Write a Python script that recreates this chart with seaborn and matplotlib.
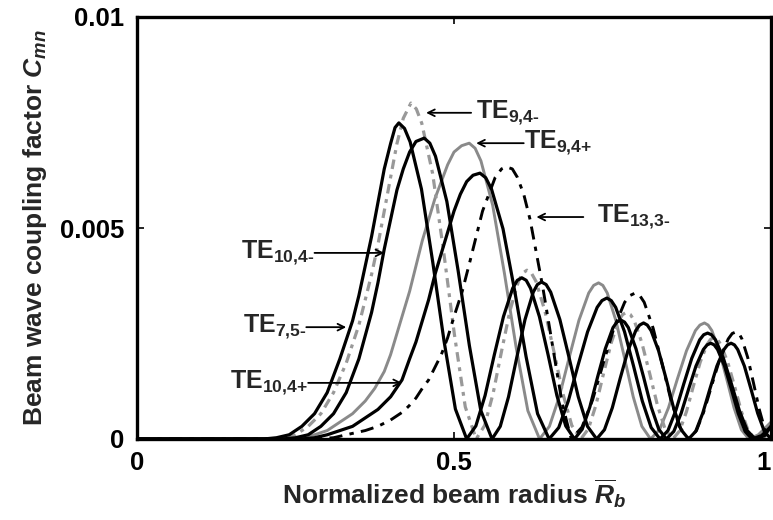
import matplotlib
matplotlib.use("Agg")
import matplotlib.pyplot as plt
import seaborn as sns
import pandas as pd

# ---- data (normalized beam radius, coupling factor) ----
te75m_x = [0, 0.20, 0.22, 0.24, 0.26, 0.28, 0.30, 0.32, 0.34, 0.35, 0.36, 0.37, 0.38, 0.39, 0.40, 0.407, 0.413, 0.4219,
           0.4308, 0.4487, 0.4665, 0.4843, 0.5022, 0.52,
           0.5345, 0.549, 0.5635, 0.578, 0.5925, 0.5998, 0.607, 0.6139, 0.6208, 0.6347, 0.6485, 0.6623, 0.6762, 0.69,
           0.7022, 0.7143, 0.7265, 0.7387, 0.7508, 0.7569, 0.763, 0.769, 0.775, 0.787, 0.799, 0.811, 0.823, 0.835,
           0.8467, 0.8583, 0.87, 0.8817, 0.8933, 0.8992, 0.905, 0.9104, 0.9158, 0.9267, 0.9375, 0.9483, 0.9592, 0.97, 0.985, 1.0]
te75m_y = [0, 0, 0.00003, 0.0001, 0.0003, 0.0006, 0.0011, 0.0019, 0.0028, 0.0034, 0.0041, 0.0048, 0.0056, 0.0064, 0.0070, 0.00738, 0.00749, 0.00736,
           0.00704, 0.00592, 0.00419, 0.00232, 0.00071, 0,
           0.00031, 0.00103, 0.00199, 0.0029, 0.00357, 0.00376, 0.00382, 0.00376, 0.00357, 0.0029, 0.00199, 0.00103, 0.00031, 0,
           0.00023, 0.00076, 0.00147, 0.00214, 0.00264, 0.00277, 0.00282, 0.00277, 0.00264, 0.00214, 0.00147, 0.00076, 0.00023, 0,
           0.00018, 0.00061, 0.00118, 0.00173, 0.00212, 0.00223, 0.00227, 0.00223, 0.00212, 0.00173, 0.00118, 0.00061, 0.00018, 0, 0.00008, 0.0003]

te94m_x = [0, 0.21, 0.23, 0.25, 0.27, 0.29, 0.31, 0.33, 0.35, 0.36, 0.37, 0.38, 0.39, 0.40, 0.41, 0.42, 0.432, 0.4406,
           0.4492, 0.4663, 0.4835, 0.5007, 0.5178, 0.535,
           0.5483, 0.5617, 0.575, 0.5883, 0.6017, 0.6083, 0.615, 0.6221, 0.6292, 0.6433, 0.6575, 0.6717, 0.6858, 0.70,
           0.712, 0.724, 0.736, 0.748, 0.76, 0.766, 0.772, 0.7781, 0.7842, 0.7963, 0.8085, 0.8207, 0.8328, 0.845,
           0.8558, 0.8667, 0.8775, 0.8883, 0.8992, 0.9046, 0.91, 0.9154, 0.9208, 0.9317, 0.9425, 0.9533, 0.9642, 0.975, 0.99, 1.0]
te94m_y = [0, 0, 0.00003, 0.0001, 0.0003, 0.0006, 0.0011, 0.0018, 0.0027, 0.0033, 0.0039, 0.0046, 0.0054, 0.0062, 0.0070, 0.0076, 0.00796, 0.00782,
           0.00748, 0.00629, 0.00446, 0.00247, 0.00076, 0,
           0.00032, 0.00108, 0.00208, 0.00304, 0.00374, 0.00393, 0.0040, 0.00393, 0.00374, 0.00304, 0.00208, 0.00108, 0.00032, 0,
           0.00024, 0.00081, 0.00156, 0.00228, 0.00281, 0.00295, 0.0030, 0.00295, 0.00281, 0.00228, 0.00156, 0.00081, 0.00024, 0,
           0.00019, 0.00065, 0.00125, 0.00182, 0.00224, 0.00236, 0.0024, 0.00236, 0.00224, 0.00182, 0.00125, 0.00065, 0.00019, 0, 0.00006, 0.0002]

te104m_x = [0, 0.23, 0.25, 0.27, 0.29, 0.31, 0.33, 0.35, 0.37, 0.38, 0.39, 0.40, 0.41, 0.42, 0.43, 0.44, 0.453, 0.4619,
            0.4708, 0.4887, 0.5065, 0.5243, 0.5422, 0.56,
            0.573, 0.586, 0.599, 0.612, 0.625, 0.6315, 0.638, 0.6453, 0.6525, 0.667, 0.6815, 0.696, 0.7105, 0.725,
            0.7373, 0.7497, 0.762, 0.7743, 0.7867, 0.7928, 0.799, 0.8049, 0.8108, 0.8227, 0.8345, 0.8463, 0.8582, 0.87,
            0.8812, 0.8923, 0.9035, 0.9147, 0.9258, 0.9314, 0.937, 0.9423, 0.9475, 0.958, 0.9685, 0.979, 0.9895, 1.0]
te104m_y = [0, 0, 0.00003, 0.0001, 0.0003, 0.0006, 0.0011, 0.0019, 0.0030, 0.0037, 0.0045, 0.0052, 0.0059, 0.0064, 0.0068, 0.00705, 0.00713, 0.00701,
            0.0067, 0.00563, 0.00399, 0.00221, 0.00068, 0,
            0.0003, 0.0010, 0.00193, 0.00283, 0.00348, 0.00366, 0.00372, 0.00366, 0.00348, 0.00283, 0.00193, 0.0010, 0.0003, 0,
            0.00022, 0.00074, 0.00143, 0.00209, 0.00257, 0.0027, 0.00275, 0.0027, 0.00257, 0.00209, 0.00143, 0.00074, 0.00022, 0,
            0.00018, 0.00061, 0.00118, 0.00173, 0.00212, 0.00223, 0.00227, 0.00223, 0.00212, 0.00173, 0.00118, 0.00061, 0.00018, 0]

te94p_x = [0, 0.24, 0.26, 0.28, 0.30, 0.32, 0.34, 0.36, 0.375, 0.39, 0.40, 0.41, 0.42, 0.43, 0.44, 0.45, 0.46, 0.47, 0.48, 0.49, 0.50, 0.512, 0.524, 0.5333,
           0.5425, 0.561, 0.5795, 0.598, 0.6165, 0.635,
           0.6505, 0.666, 0.6815, 0.697, 0.7125, 0.7203, 0.728, 0.7348, 0.7417, 0.7553, 0.769, 0.7827, 0.7963, 0.81,
           0.8242, 0.8383, 0.8525, 0.8667, 0.8808, 0.8879, 0.895, 0.9008, 0.9067, 0.9183, 0.93, 0.9417, 0.9533, 0.965, 0.98, 1.0]
te94p_y = [0, 0, 0.00003, 0.0001, 0.0002, 0.0004, 0.0006, 0.0009, 0.0012, 0.0016, 0.0020, 0.0025, 0.0030, 0.0035, 0.0041, 0.0047, 0.0052, 0.0057, 0.0061, 0.0065, 0.0068, 0.00695, 0.00701, 0.00689,
           0.00659, 0.00554, 0.00393, 0.00217, 0.00067, 0,
           0.0003, 0.0010, 0.00192, 0.00281, 0.00346, 0.00364, 0.0037, 0.00364, 0.00346, 0.00281, 0.00192, 0.0010, 0.0003, 0,
           0.00022, 0.00074, 0.00143, 0.00209, 0.00257, 0.0027, 0.00275, 0.0027, 0.00257, 0.00209, 0.00143, 0.00074, 0.00022, 0, 0.0001, 0.0004]

te104p_x = [0, 0.26, 0.28, 0.30, 0.32, 0.34, 0.36, 0.38, 0.40, 0.418, 0.43, 0.44, 0.45, 0.46, 0.47, 0.48, 0.49, 0.50, 0.51, 0.52, 0.53, 0.541, 0.5501,
            0.5592, 0.5773, 0.5955, 0.6137, 0.6318, 0.65,
            0.6652, 0.6803, 0.6955, 0.7107, 0.7258, 0.7334, 0.741, 0.748, 0.755, 0.769, 0.783, 0.797, 0.811, 0.825,
            0.8375, 0.85, 0.8625, 0.875, 0.8875, 0.8938, 0.90, 0.9062, 0.9125, 0.925, 0.9375, 0.95, 0.9625, 0.975, 0.99, 1.0]
te104p_y = [0, 0, 0.00003, 0.0001, 0.0002, 0.0003, 0.0005, 0.0007, 0.0010, 0.0014, 0.0019, 0.0023, 0.0028, 0.0033, 0.0039, 0.0044, 0.0049, 0.0054, 0.0058, 0.0061, 0.00625, 0.0063, 0.00619,
            0.00592, 0.00498, 0.00353, 0.00195, 0.0006, 0,
            0.00027, 0.0009, 0.00174, 0.00254, 0.00312, 0.00328, 0.00334, 0.00328, 0.00312, 0.00254, 0.00174, 0.0009, 0.00027, 0,
            0.0002, 0.00068, 0.00131, 0.00191, 0.00235, 0.00247, 0.00251, 0.00247, 0.00235, 0.00191, 0.00131, 0.00068, 0.0002, 0, 0.00008, 0.0003]

te133m_x = [0, 0.28, 0.31, 0.33, 0.36, 0.38, 0.40, 0.42, 0.43, 0.44, 0.45, 0.46, 0.47, 0.48, 0.49, 0.50, 0.513, 0.525, 0.535, 0.545, 0.555, 0.565, 0.575, 0.582,
            0.592, 0.60, 0.61, 0.62, 0.63, 0.64, 0.65, 0.66, 0.67, 0.678, 0.685,
            0.7018, 0.7187, 0.7355, 0.7523, 0.7692, 0.7776, 0.786, 0.793, 0.80, 0.814, 0.828, 0.842, 0.856, 0.87,
            0.8825, 0.895, 0.9075, 0.92, 0.9325, 0.9388, 0.945, 0.9496, 0.9542, 0.9633, 0.9725, 0.9817, 0.9908, 1.0]
te133m_y = [0, 0, 0.00003, 0.0001, 0.0002, 0.0003, 0.00045, 0.00065, 0.0008, 0.00097, 0.0012, 0.0014, 0.0017, 0.0020, 0.0024, 0.0029, 0.0035, 0.0042, 0.0048, 0.0054, 0.0058, 0.0062, 0.0064, 0.00645,
            0.0064, 0.0062, 0.0058, 0.0052, 0.0044, 0.0036, 0.0027, 0.0018, 0.0009, 0.0004, 0,
            0.00028, 0.00093, 0.0018, 0.00263, 0.00324, 0.0034, 0.00346, 0.0034, 0.00324, 0.00263, 0.0018, 0.00093, 0.00028, 0,
            0.0002, 0.00069, 0.00132, 0.00193, 0.00237, 0.0025, 0.00254, 0.0025, 0.00237, 0.00193, 0.00132, 0.00069, 0.0002, 0]

# labels
lab_te94m = r"TE$_{\text{9,4-}}$"
lab_te94p = r"TE$_{\text{9,4+}}$"
lab_te133m = r"TE$_{\text{13,3-}}$"
lab_te104m = r"TE$_{\text{10,4-}}$"
lab_te75m = r"TE$_{\text{7,5-}}$"
lab_te104p = r"TE$_{\text{10,4+}}$"

xticks = [0, 0.5, 1]
xticklabels = ["0", "0.5", "1"]
yticks = [0, 0.005, 0.01]
yticklabels = ["0", "0.005", "0.01"]

sns.set_theme(style="white")
plt.rcParams["font.family"] = ["Liberation Sans", "DejaVu Sans"]
plt.rcParams["font.weight"] = "bold"
plt.rcParams["mathtext.fontset"] = "custom"
plt.rcParams["mathtext.rm"] = "Liberation Sans:bold"
plt.rcParams["mathtext.bf"] = "Liberation Sans:bold"
plt.rcParams["mathtext.it"] = "Liberation Sans:italic:bold"
plt.rcParams["mathtext.default"] = "rm"

fig = plt.figure(figsize=(7.73, 5.20), dpi=100)
ax = fig.add_axes([137/773, 1-439/520, (771-137)/773, (439-17)/520])

curves = [
    (te94p_x, te94p_y, "#8a8a8a", 2.1, "-"),
    (te94m_x, te94m_y, "#999999", 2.3, (0, (3, 1.8, 1.2, 1.8))),
    (te75m_x, te75m_y, "black", 2.3, "-"),
    (te104m_x, te104m_y, "black", 2.3, "-"),
    (te104p_x, te104p_y, "black", 2.3, "-"),
    (te133m_x, te133m_y, "black", 2.1, (0, (4.5, 2.5, 1.5, 2.5))),
]
for xs, ys, col, lw, ls in curves:
    df = pd.DataFrame({"x": xs, "y": ys})
    sns.lineplot(data=df, x="x", y="y", ax=ax, color=col, linewidth=lw,
                 linestyle=ls, estimator=None, sort=False,
                 solid_joinstyle="round", dash_joinstyle="round")

ax.set_xlim(0, 1)
ax.set_ylim(0, 0.01)
ax.set_xticks(xticks)
ax.set_xticklabels(xticklabels)
ax.set_yticks(yticks)
ax.set_yticklabels(yticklabels)
ax.tick_params(direction="in", length=5, width=1.2, labelsize=18.5, pad=9,
               top=True, right=True, bottom=True, left=True, colors="black")
for lab in ax.get_xticklabels() + ax.get_yticklabels():
    lab.set_fontweight("bold")
ax.get_xticklabels()[-1].set_horizontalalignment("right")
for s in ax.spines.values():
    s.set_linewidth(2.4)
    s.set_color("black")

ax.set_xlabel(r"Normalized beam radius $\mathit{\overline{R}_b}$", fontsize=19, fontweight="bold", labelpad=1)
ax.set_ylabel(r"Beam wave coupling factor $\mathit{C_{mn}}$", fontsize=19, fontweight="bold", labelpad=8)

arrow = dict(arrowstyle="->", color="black", lw=1.3, shrinkA=0, shrinkB=0)
fs = 18
# right-side labels (arrow points left)
ax.annotate("", xy=(0.456, 0.00773), xytext=(0.527, 0.00773), arrowprops=arrow)
ax.text(0.535, 0.00773, lab_te94m, fontsize=fs, fontweight="bold", va="center", ha="left")
ax.annotate("", xy=(0.535, 0.00701), xytext=(0.61, 0.00701), arrowprops=arrow)
ax.text(0.61, 0.00701, lab_te94p, fontsize=fs, fontweight="bold", va="center", ha="left")
ax.annotate("", xy=(0.63, 0.00526), xytext=(0.704, 0.00526), arrowprops=arrow)
ax.text(0.725, 0.00526, lab_te133m, fontsize=fs, fontweight="bold", va="center", ha="left")
# left-side labels (arrow points right)
ax.annotate("", xy=(0.39, 0.00441), xytext=(0.28, 0.00441), arrowprops=arrow)
ax.text(0.28, 0.00441, lab_te104m, fontsize=fs, fontweight="bold", va="center", ha="right")
ax.annotate("", xy=(0.33, 0.00265), xytext=(0.267, 0.00265), arrowprops=arrow)
ax.text(0.267, 0.00265, lab_te75m, fontsize=fs, fontweight="bold", va="center", ha="right")
ax.annotate("", xy=(0.418, 0.00133), xytext=(0.27, 0.00133), arrowprops=arrow)
ax.text(0.27, 0.00133, lab_te104p, fontsize=fs, fontweight="bold", va="center", ha="right")

fig.savefig("out.png", dpi=100)
